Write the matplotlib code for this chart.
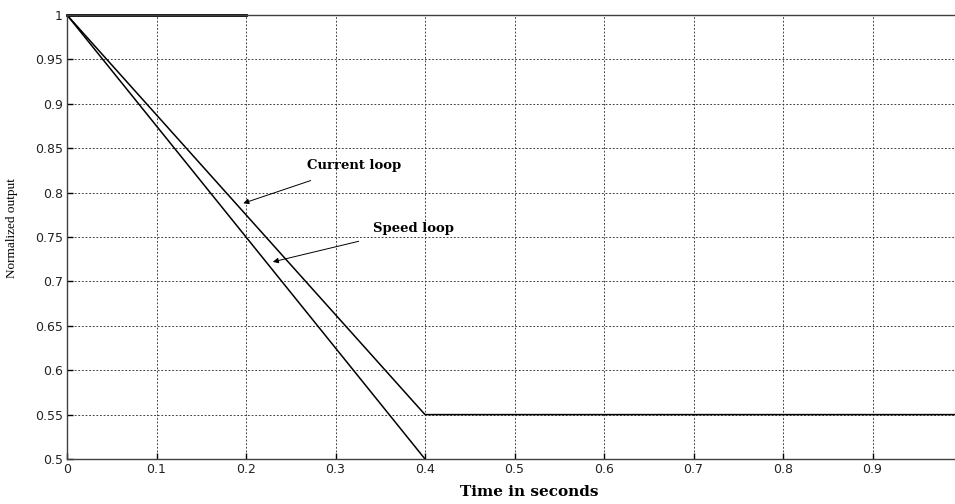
import numpy as np
import matplotlib
matplotlib.use("Agg")
import matplotlib.pyplot as plt

# step responses
t_current = [0.0, 0.4, 1.0]
y_current = [1.0, 0.55, 0.55]
t_speed = [0.0, 0.4]
y_speed = [1.0, 0.5]
t_ref = [0.0, 0.2]
y_ref = [1.0, 1.0]

x_ticks = [0, 0.1, 0.2, 0.3, 0.4, 0.5, 0.6, 0.7, 0.8, 0.9]
x_labels = ["0", "0.1", "0.2", "0.3", "0.4", "0.5", "0.6", "0.7", "0.8", "0.9"]
y_ticks = [0.5, 0.55, 0.6, 0.65, 0.7, 0.75, 0.8, 0.85, 0.9, 0.95, 1.0]
y_labels = ["0.5", "0.55", "0.6", "0.65", "0.7", "0.75", "0.8", "0.85", "0.9", "0.95", "1"]

fig = plt.figure(figsize=(9.55, 5.04), dpi=100)
ax = fig.add_axes([67 / 955, 45 / 504, 895 / 955, 444 / 504])

ax.plot(t_current, y_current, color="black", lw=1.1)
ax.plot(t_speed, y_speed, color="black", lw=1.1)
ax.plot(t_ref, y_ref, color="black", lw=2.0, clip_on=False)

ax.set_xlim(0, 1.0)
ax.set_ylim(0.5, 1.0)
ax.set_xticks(x_ticks)
ax.set_xticklabels(x_labels, family="DejaVu Sans", fontsize=9, color="#222222")
ax.set_yticks(y_ticks)
ax.set_yticklabels(y_labels, family="DejaVu Sans", fontsize=9, color="#222222")
ax.tick_params(direction="in", length=4, width=1, pad=3)
ax.grid(True, color="#333333", linestyle=(0, (2, 2)), lw=0.65)
for s in ax.spines.values():
    s.set_color("#404040")
    s.set_linewidth(1.0)

ax.set_xlabel("Time in seconds", family="DejaVu Serif", fontweight="bold",
              fontsize=11)
ax.xaxis.set_label_coords(0.517, -0.058)
ax.set_ylabel("Normalized output", family="Liberation Serif", fontsize=9.5)
ax.yaxis.set_label_coords(-0.055, 0.52)

# labels with arrows
ax.annotate("Current loop", xy=(0.197, 0.788), xytext=(0.268, 0.830),
            family="DejaVu Serif", fontweight="bold", fontsize=9.5, va="center",
            arrowprops=dict(arrowstyle="-|>", color="black", lw=0.7,
                            mutation_scale=8, shrinkA=12, shrinkB=0))
ax.annotate("Speed loop", xy=(0.230, 0.722), xytext=(0.342, 0.760),
            family="DejaVu Serif", fontweight="bold", fontsize=9.5, va="center",
            arrowprops=dict(arrowstyle="-|>", color="black", lw=0.7,
                            mutation_scale=8, shrinkA=12, shrinkB=0))

fig.savefig("out.png", dpi=100)
